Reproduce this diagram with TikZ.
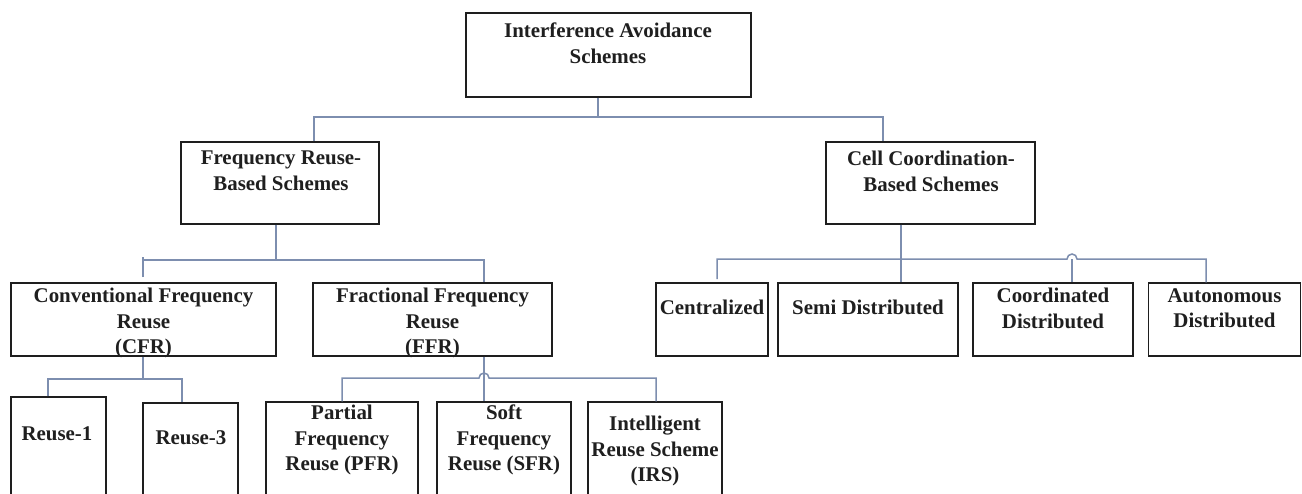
\documentclass[tikz,border=0pt]{standalone}
\usepackage{fontspec}
\setmainfont{Liberation Serif}
\definecolor{linkc}{RGB}{125,142,175}
\definecolor{boxc}{RGB}{30,30,30}
\begin{document}
\begin{tikzpicture}[x=1pt,y=-1pt,
  box/.style={draw=boxc, line width=1.4pt, inner sep=0pt},
  lbl/.style={font=\fontsize{20.9}{25.5}\selectfont\bfseries, align=center, inner sep=0pt, anchor=north, text=black!88},
  conn/.style={draw=linkc, line width=1.5pt}]
\useasboundingbox (0,0) rectangle (1302,493);
\clip (0,0) rectangle (1302,493);
\fill[white] (0,0) rectangle (1302,493);

% boxes
\node[box, minimum width=285, minimum height=84] (top) at (608.5,55) {};
\node[box, minimum width=198, minimum height=82] (frb) at (280,183) {};
\node[box, minimum width=209, minimum height=82] (ccb) at (930.5,183) {};
\node[box, minimum width=265, minimum height=73] (cfr) at (143.5,319.5) {};
\node[box, minimum width=239, minimum height=73] (ffr) at (432.5,319.5) {};
\node[box, minimum width=112, minimum height=73] (cen) at (712,319.5) {};
\node[box, minimum width=180, minimum height=73] (semi) at (868,319.5) {};
\node[box, minimum width=160, minimum height=73] (coord) at (1053,319.5) {};
\node[box, minimum width=152, minimum height=73] (autd) at (1224.5,319.5) {};
\node[box, minimum width=95, minimum height=123] (rone) at (58.5,458.5) {};
\node[box, minimum width=95, minimum height=117] (rthree) at (190.5,461.5) {};
\node[box, minimum width=152, minimum height=118] (pfr) at (342,461) {};
\node[box, minimum width=134, minimum height=118] (sfr) at (504,461) {};
\node[box, minimum width=134, minimum height=118] (irs) at (655,461) {};

% labels
\node[lbl] (ttop) at (608,23) {Interference Avoidance\\Schemes};
\node[lbl] (tfrb) at (281,151) {Frequency Reuse-\\Based Schemes};
\node[lbl] (tccb) at (931,151) {Cell Coordination-\\Based Schemes};
\node[lbl] (tcfr) at (143.5,288) {Conventional Frequency\\Reuse\\(CFR)};
\node[lbl] (tffr) at (432.5,288) {Fractional Frequency\\Reuse\\(FFR)};
\node[lbl] (tcen) at (712,300) {Centralized};
\node[lbl] (tsemi) at (868,300) {Semi Distributed};
\node[lbl] (tcoord) at (1053,288) {Coordinated\\Distributed};
\node[lbl] (tautd) at (1224.5,288) {Autonomous\\Distributed};
\node[lbl] (trone) at (57,426) {Reuse-1};
\node[lbl] (trthree) at (191,430) {Reuse-3};
\node[lbl] (tpfr) at (342,405) {Partial\\Frequency\\Reuse (PFR)};
\node[lbl] (tsfr) at (504,405) {Soft\\Frequency\\Reuse (SFR)};
\node[lbl] (tirs) at (655,416) {Intelligent\\Reuse Scheme\\(IRS)};

% junction coordinates
\coordinate (j0) at (598,117);
\coordinate (j1l) at (314,117);
\coordinate (j1r) at (883,117);
\coordinate (j2l) at (143,260);
\coordinate (j2m) at (276,260);
\coordinate (j2r) at (484,260);
\coordinate (j2e) at (143,277);
\coordinate (j3c) at (901,259);
\coordinate (j3l) at (717,259);
\coordinate (j3le) at (717,279);
\coordinate (j3k) at (1072,259);
\coordinate (j3r) at (1206,259);
\coordinate (j4m) at (143,379);
\coordinate (j4l) at (48,379);
\coordinate (j4r) at (182,379);
\coordinate (j5m) at (484,378);
\coordinate (j5l) at (342,378);
\coordinate (j5r) at (656,378);

% connectors
\draw[conn] (top.south -| j0) -- (j0);
\draw[conn] (frb.north -| j1l) -- (j1l) -- (j1r) -- (ccb.north -| j1r);

\draw[conn] (frb.south -| j2m) -- (j2m);
\draw[conn] (j2e) -- ([yshift=3pt]j2l) -- (j2l) -- (j2r) -- (ffr.north -| j2r);

\draw[conn] (ccb.south -| j3c) -- (semi.north -| j3c);
\draw[conn] (j3le) -- (j3l) -- ([xshift=-5pt]j3k) arc (180:360:5) -- (j3r) -- (autd.north -| j3r);
\draw[conn] (j3k) -- (coord.north -| j3k);

\draw[conn] (cfr.south -| j4m) -- (j4m);
\draw[conn] (rone.north -| j4l) -- (j4l) -- (j4r) -- (rthree.north -| j4r);

\draw[conn] (ffr.south -| j5m) -- (sfr.north -| j5m);
\draw[conn] (pfr.north -| j5l) -- (j5l) -- ([xshift=-5pt]j5m) arc (180:360:5) -- (j5r) -- (irs.north -| j5r);
\end{tikzpicture}
\end{document}
